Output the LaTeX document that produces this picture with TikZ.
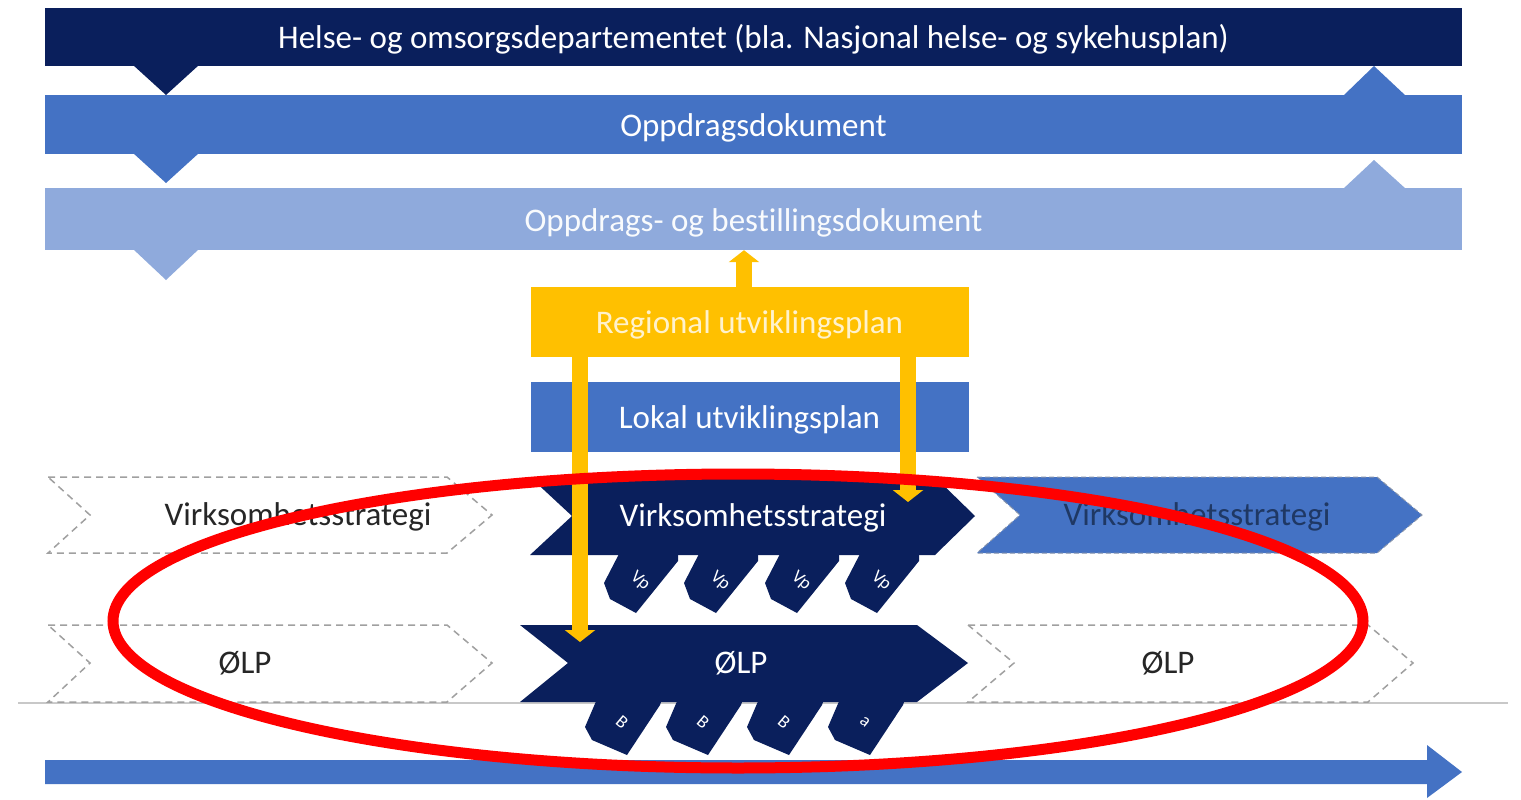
\documentclass[tikz,border=0pt]{standalone}
\usepackage{fontspec}
\setmainfont[Ligatures={NoCommon}]{Carlito}
\usetikzlibrary{arrows.meta}
\definecolor{navy}{RGB}{10,31,92}
\definecolor{midblue}{RGB}{68,114,196}
\definecolor{lightblue}{RGB}{143,170,220}
\definecolor{ygold}{RGB}{255,192,0}
\definecolor{ytext}{RGB}{255,242,204}
\definecolor{dashgray}{RGB}{160,160,160}
\definecolor{vstext}{RGB}{31,56,100}
\definecolor{linegray}{RGB}{200,200,200}
\definecolor{darktext}{RGB}{38,38,38}
\begin{document}
\begin{tikzpicture}[x=1pt,y=-1pt,
  band/.style={minimum width=1417pt, inner sep=0pt, text=white, text height=29pt, text depth=5pt, font=\fontsize{33}{38}\selectfont},
  planbox/.style={minimum width=438pt, inner sep=0pt, text height=28pt, text depth=5pt, font=\fontsize{33}{38}\selectfont},
  lbl/.style={inner sep=0pt, font=\fontsize{33}{38}\selectfont},
  tablbl/.style={inner sep=0pt, text=white, font=\fontsize{18}{20}\selectfont, rotate=-40},
  dashchev/.style={draw=dashgray, line width=1.5pt, dash pattern=on 7pt off 5pt, fill=white},
  yarr/.style={draw=ygold, line width=16pt, -{Triangle[width=30pt,length=12pt]}},
]
\useasboundingbox (0,0) rectangle (1521,800);
\fill[white] (0,0) rectangle (1521,800);
% grey base line
\draw[linegray, line width=1.5pt] (18,703) -- (1508,703);
% top bands
\node[band, fill=navy, minimum height=58pt] (b1) at (753.5,37) {Helse- og omsorgsdepartementet (bla. Nasjonal helse- og sykehusplan)};
\node[band, fill=midblue, minimum height=59pt] (b2) at (753.5,124.5) {Oppdragsdokument};
\node[band, fill=lightblue, minimum height=62pt, text=white!95!lightblue] (b3) at (753.5,219) {Oppdrags- og bestillingsdokument};
% triangles
\fill[navy] (133,65) -- (199,65) -- (166,95) -- cycle;
\fill[midblue] (1343,96) -- (1406,96) -- (1374,66) -- cycle;
\fill[midblue] (133,153) -- (199,153) -- (166,183) -- cycle;
\fill[lightblue] (1343,189) -- (1406,189) -- (1374,160) -- cycle;
\fill[lightblue] (133,249) -- (199,249) -- (166,280) -- cycle;
% plan boxes
\node[planbox, fill=ygold, text=ytext, minimum height=70pt] (reg) at (749.5,322) {Regional utviklingsplan};
\node[planbox, fill=midblue, text=white, minimum height=70pt] (lok) at (749.5,417) {Lokal utviklingsplan};
% chevrons row 1
\path[dashchev] (48,477) -- (447,477) -- (492,515) -- (447,553) -- (48,553) -- (90,515) -- cycle;
\node[lbl, text=darktext] (vsL) at (298,517) {Virksomhetsstrategi};
\path[fill=midblue, draw=dashgray!70!midblue, line width=1pt, dash pattern=on 5pt off 3pt] (977,477) -- (1377,477) -- (1422,515) -- (1377,553) -- (977,553) -- (1020,515) -- cycle;
\node[lbl, text=vstext] (vsR) at (1197,517) {Virksomhetsstrategi};
% vp tabs
\foreach \xl [count=\i] in {620,700,781,861} {
  \fill[navy] (\xl,552) -- (\xl+58,552) -- (\xl+58,561) -- (\xl+16,613) -- (\xl-10,599) -- (\xl-16,583) -- cycle;
  \node[tablbl] (vp\i) at (\xl+20,581) {Vp};
}
\fill[navy] (530,477) -- (935,477) -- (975,516) -- (935,555) -- (530,555) -- (572,516) -- cycle;
\node[lbl, text=white] (vsM) at (753,518) {Virksomhetsstrategi};
% chevrons row 2
\path[dashchev] (48,625) -- (447,625) -- (492,663) -- (447,702) -- (48,702) -- (90,663) -- cycle;
\node[lbl, text=darktext] (olpL) at (245,663) {ØLP};
\path[dashchev] (968,625) -- (1368,625) -- (1413,663) -- (1368,702) -- (968,702) -- (1014,663) -- cycle;
\node[lbl, text=darktext] (olpR) at (1168,663) {ØLP};
\foreach \xl/\t [count=\i] in {597/B,678/B,759/B,840/a} {
  \fill[navy] (\xl,699) -- (\xl+65,699) -- (\xl+63,705) -- (\xl+30,755) -- (\xl-5,740) -- (\xl-12,727) -- cycle;
  \node[tablbl] (bt\i) at (\xl+25,722) {\t};
}
\fill[navy] (520,625) -- (917,625) -- (968,663) -- (917,702) -- (520,702) -- (568,663) -- cycle;
\node[lbl, text=white] (olpM) at (741,663) {ØLP};
% yellow connectors
\coordinate (xup) at (744,0);
\coordinate (xl) at (580,0);
\coordinate (xr) at (908,0);
\coordinate (tipL) at (580,642);
\coordinate (tipR) at (908,502);
\draw[yarr] (reg.north -| xup) -- (b3.south -| xup);
\draw[yarr] (reg.south -| xl) -- (tipL);
\draw[yarr] (reg.south -| xr) -- (tipR);
% time arrow
\fill[midblue] (45,760) -- (1427,760) -- (1427,745) -- (1462,772) -- (1427,798) -- (1427,784) -- (45,784) -- cycle;
% red ellipse
\draw[red, line width=11pt] (738,621) ellipse [x radius=625, y radius=147];
\end{tikzpicture}
\end{document}
